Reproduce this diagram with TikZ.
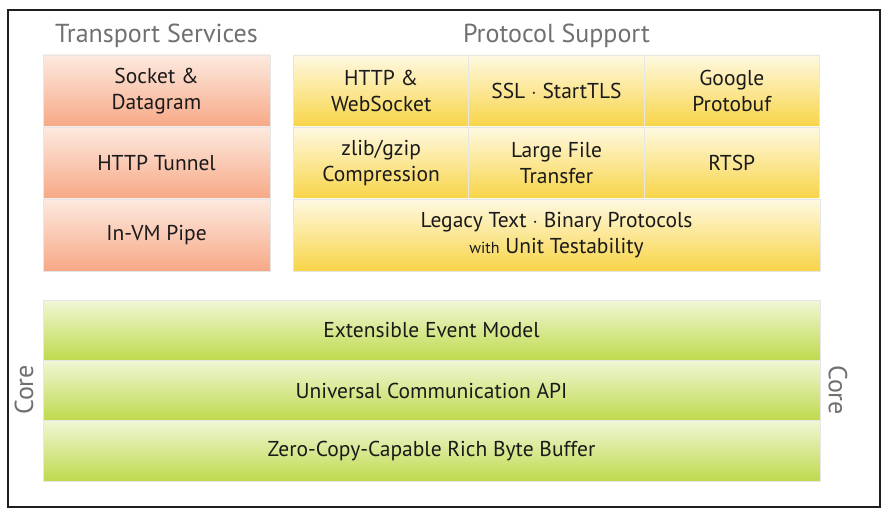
\documentclass[tikz,border=0pt]{standalone}
\usepackage{fontspec}
\setmainfont{PT Sans}
\usepackage{tikz}
\usetikzlibrary{positioning}

\definecolor{frameclr}{HTML}{1E1E1E}
\definecolor{titleclr}{HTML}{707070}
\definecolor{textclr}{HTML}{1A1A1A}
\definecolor{cellline}{HTML}{E6E6E6}
\definecolor{tstop}{HTML}{FDEAE0}
\definecolor{tsbot}{HTML}{F7A886}
\definecolor{pstop}{HTML}{FFF9E2}
\definecolor{psbot}{HTML}{F8D446}
\definecolor{cotop}{HTML}{F0F7D6}
\definecolor{cobot}{HTML}{BEDA4C}

\tikzset{
  cell/.style={rectangle, draw=cellline, line width=0.6pt, inner sep=0pt,
    align=center, text=textclr, font=\fontsize{21.5}{26}\selectfont},
  tsbox/.style={cell, top color=tstop, bottom color=tsbot,
    minimum width=227pt, minimum height=72pt},
  psbox/.style={cell, top color=pstop, bottom color=psbot,
    minimum width=175.7pt, minimum height=72pt},
  corebox/.style={cell, top color=cotop, bottom color=cobot,
    minimum width=777pt, minimum height=60.3pt},
  grouptitle/.style={text=titleclr, font=\fontsize{26}{30}\selectfont},
}

\begin{document}
\begin{tikzpicture}[x=1pt, y=-1pt]
  \useasboundingbox (0,0) rectangle (894,518);
  \fill[white] (0,0) rectangle (894,518);
  \draw[line width=1.6pt, frameclr] (8,10) rectangle (880,507);

  %% Transport services column
  \node[grouptitle] (tstitle) at (156.5,36) {Transport Services};
  \node[tsbox] (sock)   at (156.5,91)  {Socket \&\\Datagram};
  \node[tsbox] (tunnel) at (156.5,163) {HTTP Tunnel};
  \node[tsbox] (pipe)   at (156.5,235) {In-VM Pipe};

  %% Protocol support grid
  \node[grouptitle] (pstitle) at (556.5,36) {Protocol Support};
  \node[psbox] (http)  at (381.2,91)  {HTTP \&\\WebSocket};
  \node[psbox] (ssl)   at (556.5,91)  {SSL $\cdot$ StartTLS};
  \node[psbox] (proto) at (731.8,91)  {Google\\Protobuf};
  \node[psbox] (zlib)  at (381.2,163) {zlib/gzip\\Compression};
  \node[psbox] (large) at (556.5,163) {Large File\\Transfer};
  \node[psbox] (rtsp)  at (731.8,163) {RTSP};
  \node[psbox, minimum width=527pt] (legacy) at (556.5,235)
    {Legacy Text $\cdot$ Binary Protocols\\{\fontsize{16}{26}\selectfont with} Unit Testability};

  %% Core layers
  \node[corebox] (event)  at (431.5,330.2) {Extensible Event Model};
  \node[corebox] (api)    at (431.5,390.5) {Universal Communication API};
  \node[corebox] (buffer) at (431.5,450.8) {Zero-Copy-Capable Rich Byte Buffer};

  \node[grouptitle, rotate=90]  (coreleft)  at (24,390)  {Core};
  \node[grouptitle, rotate=-90] (coreright) at (838,390) {Core};
\end{tikzpicture}
\end{document}
